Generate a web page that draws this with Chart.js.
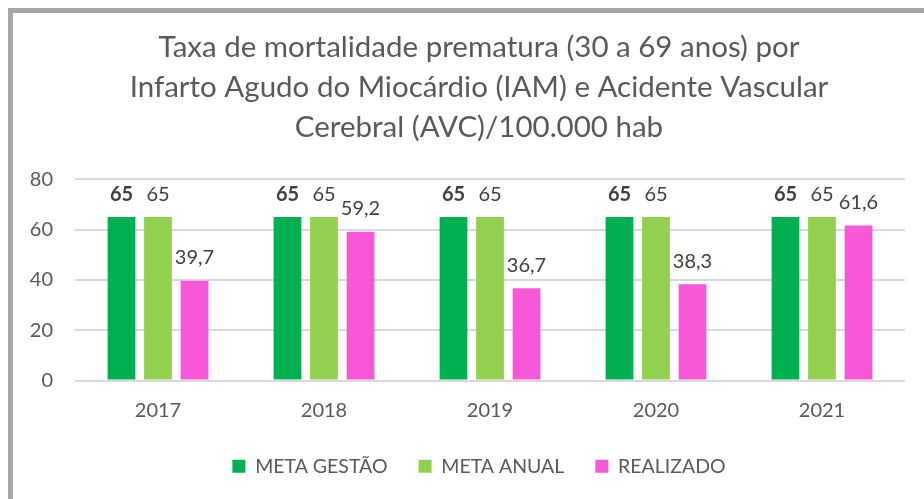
<!DOCTYPE html>
<html>
<head>
<meta charset="utf-8">
<script src="https://cdn.jsdelivr.net/npm/chart.js@4/dist/chart.umd.min.js"></script>
<style>
  html, body { margin: 0; padding: 0; background: #fff; overflow: hidden; }
  #frame {
    position: absolute; left: 8px; top: 8px;
    width: 960px; height: 540px;
    border: 5px solid #a6a6a6; background: #fff;
  }
  canvas { display: block; }
</style>
</head>
<body>
<div id="frame"><canvas id="myChart" width="932" height="486"></canvas></div>
<script>
var years = ['2017', '2018', '2019', '2020', '2021'];
var metaGestao = [65, 65, 65, 65, 65];
var metaAnual = [65, 65, 65, 65, 65];
var realizado = [39.7, 59.2, 36.7, 38.3, 61.6];
var titleLines = [
    'Taxa de mortalidade prematura (30 a 69 anos) por',
    'Infarto Agudo do Miocárdio (IAM) e Acidente Vascular',
    'Cerebral (AVC)/100.000 hab'
];

var fontFamily = 'Lato, "Open Sans", sans-serif';
var textColor = '#595959';

// draws the value above each bar, first series in bold
var barLabels = {
    id: 'barLabels',
    afterDatasetsDraw: function (chart) {
        var ctx = chart.ctx;
        ctx.save();
        ctx.textAlign = 'center';
        ctx.textBaseline = 'bottom';
        chart.data.datasets.forEach(function (ds, i) {
            var meta = chart.getDatasetMeta(i);
            ctx.font = (i === 0 ? 'bold ' : '') + '20px ' + fontFamily;
            ctx.fillStyle = '#404040';
            meta.data.forEach(function (bar, j) {
                var txt = String(ds.data[j]).replace('.', ',');
                ctx.fillText(txt, bar.x, bar.y - 13);
            });
        });
        ctx.restore();
    }
};

// pull the legend up a little without touching the plot
var legendNudge = {
    id: 'legendNudge',
    afterLayout: function (chart) {
        chart.legend.top -= 7;
        chart.legend.bottom -= 7;
    }
};

var ctx = document.getElementById('myChart');

var data = {
    labels: years,
    datasets: [{
        label: 'META GESTÃO',
        data: metaGestao,
        backgroundColor: '#00b050'
    }, {
        label: 'META ANUAL',
        data: metaAnual,
        backgroundColor: '#92d050'
    }, {
        label: 'REALIZADO',
        data: realizado,
        backgroundColor: '#f658d8'
    }]
};

var option = {
    responsive: false,
    animation: false,
    layout: {
        padding: { left: 0, right: 0, top: 14, bottom: 6 }
    },
    datasets: {
        bar: {
            categoryPercentage: 0.66,
            barPercentage: 0.76
        }
    },
    scales: {
        x: {
            grid: { display: false },
            border: { display: false },
            ticks: {
                color: textColor,
                font: { family: fontFamily, size: 20 },
                padding: 10
            }
        },
        y: {
            min: 0,
            max: 80,
            border: { display: false },
            grid: { color: '#d9d9d9', lineWidth: 2, drawTicks: false },
            afterFit: function (scale) { scale.width = 62; },
            ticks: {
                stepSize: 20,
                color: textColor,
                font: { family: fontFamily, size: 20 },
                padding: 22
            }
        },
        // empty right axis, only keeps space so title and legend stay centred on the frame
        yRight: {
            position: 'right',
            min: 0,
            max: 80,
            grid: { display: false },
            border: { display: false },
            ticks: { display: false },
            afterFit: function (scale) { scale.width = 40; }
        }
    },
    plugins: {
        title: {
            display: true,
            text: titleLines,
            color: textColor,
            font: { family: fontFamily, size: 29.5, weight: 'normal', lineHeight: 1.36 },
            padding: { top: 0, bottom: 32 }
        },
        legend: {
            position: 'bottom',
            labels: {
                boxWidth: 13,
                boxHeight: 13,
                padding: 31,
                color: textColor,
                font: { family: fontFamily, size: 19.5 }
            }
        },
        tooltip: { enabled: false }
    }
};

var myChart = new Chart(ctx, {
    type: 'bar',
    data: data,
    options: option,
    plugins: [barLabels, legendNudge]
});
</script>
</body>
</html>
